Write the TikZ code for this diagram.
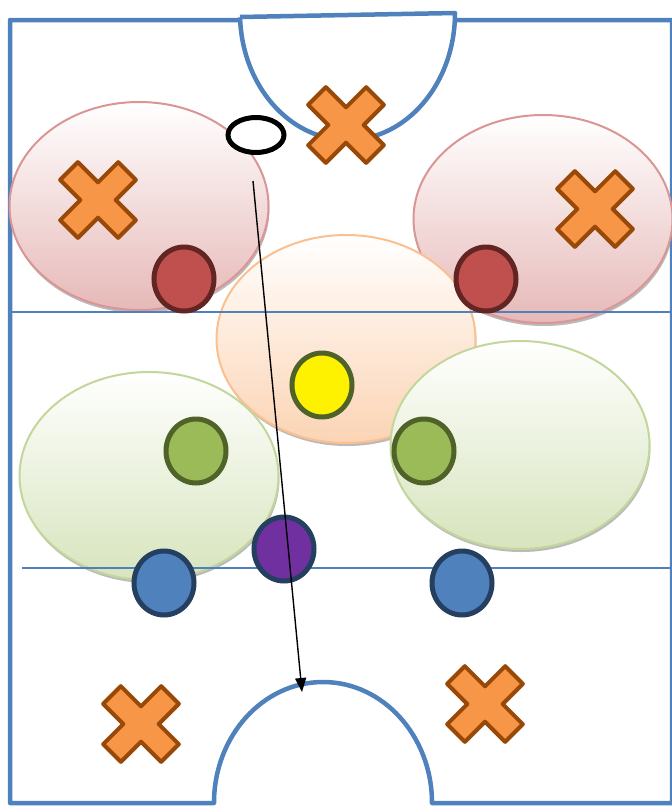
\documentclass[tikz,border=0pt]{standalone}
\usetikzlibrary{positioning, shapes.geometric, shadows, arrows.meta}

\definecolor{fieldblue}{HTML}{4F81BD}
\definecolor{redzoneline}{HTML}{D99694}
\definecolor{redzonefill}{HTML}{E6B9B8}
\definecolor{orangezoneline}{HTML}{FAC090}
\definecolor{orangezonefill}{HTML}{FBD4B4}
\definecolor{greenzoneline}{HTML}{C3D69B}
\definecolor{greenzonefill}{HTML}{D7E4BD}
\definecolor{redfill}{HTML}{C0504D}
\definecolor{redline}{HTML}{632523}
\definecolor{olive}{HTML}{4F6228}
\definecolor{greenfill}{HTML}{9BBB59}
\definecolor{purplefill}{HTML}{7030A0}
\definecolor{navy}{HTML}{243F60}
\definecolor{xfill}{HTML}{F79646}
\definecolor{xline}{HTML}{984807}

\begin{document}
\begin{tikzpicture}[x=1pt, y=-1pt,
    field/.style={draw=fieldblue, line width=4.5pt, line join=round},
    midline/.style={draw=fieldblue, line width=1.3pt},
    zone/.style={ellipse, inner sep=0pt, minimum width=259pt, minimum height=208pt, line width=2pt, top color=white, drop shadow={shadow xshift=1pt, shadow yshift=-3pt, fill=gray!90, opacity=0.6}},
    redzone/.style={zone, draw=redzoneline, bottom color=redzonefill},
    orangezone/.style={zone, draw=orangezoneline, bottom color=orangezonefill},
    greenzone/.style={zone, draw=greenzoneline, bottom color=greenzonefill},
    player/.style={ellipse, inner sep=0pt, minimum width=60pt, minimum height=64pt, line width=5pt},
    redplayer/.style={player, draw=redline, fill=redfill},
    yellowplayer/.style={player, draw=olive, fill=yellow},
    greenplayer/.style={player, draw=olive, fill=greenfill},
    purpleplayer/.style={player, draw=navy, fill=purplefill},
    blueplayer/.style={player, draw=navy, fill=fieldblue},
    ballnode/.style={ellipse, inner sep=0pt, minimum width=56pt, minimum height=35pt, line width=5pt, draw=black, fill=white},
    pass/.style={line width=1.4pt, -{Triangle[length=14pt, width=11pt]}},
    xmark/.pic={\draw[line width=4pt, draw=xline, fill=xfill, line join=round, rotate=45]
        (12.5,12.5) -- (12.5,41) -- (-12.5,41) -- (-12.5,12.5) -- (-41,12.5) -- (-41,-12.5)
        -- (-12.5,-12.5) -- (-12.5,-41) -- (12.5,-41) -- (12.5,-12.5) -- (41,-12.5) -- (41,12.5) -- cycle;},
]
    \useasboundingbox (0,0) rectangle (672,807);
    \fill[white] (0,0) rectangle (672,807);
    % field
    \draw[field] (240,20) -- (10,20) -- (10,803) -- (214,803)
        arc[start angle=180, end angle=360, x radius=109, y radius=121] -- (672,803) -- (672,20) -- (455,20);
    \draw[field] (240,17) -- (455,13) arc[start angle=0, end angle=178, x radius=107.5, y radius=127];
    % zones
    \node[redzone]    (zoneTL) at (139,206) {};
    \node[redzone]    (zoneTR) at (543,219) {};
    \node[orangezone] (zoneM)  at (346,339) {};
    \node[greenzone]  (zoneBL) at (149,476) {};
    \node[greenzone]  (zoneBR) at (520,445) {};
    % lines
    \draw[midline] (10,312) -- (672,312);
    \draw[midline] (22,568) -- (672,568);
    % players
    \node[redplayer]    (redL)                          at (184,279) {};
    \node[redplayer]    (redR)    [right=237pt of redL]              {};
    \node[yellowplayer] (pivot)                         at (322,385) {};
    \node[greenplayer]  (wingL)                         at (196,451) {};
    \node[greenplayer]  (wingR)                         at (424,451) {};
    \node[purpleplayer] (carrier)                       at (284,549) {};
    \node[blueplayer]   (backL)                         at (164,583) {};
    \node[blueplayer]   (backR)   [right=233pt of backL]             {};
    \node[ballnode]     (ball)                          at (256,135) {};
    % opponents
    \pic at (98,200)  {xmark};
    \pic at (346,125) {xmark};
    \pic at (595,209) {xmark};
    \pic at (141,724) {xmark};
    \pic at (485,704) {xmark};
    % pass
    \coordinate (passstart) at (253,181);
    \coordinate (passend)   at (302,692);
    \draw[pass] (passstart) -- (passend);
\end{tikzpicture}
\end{document}
